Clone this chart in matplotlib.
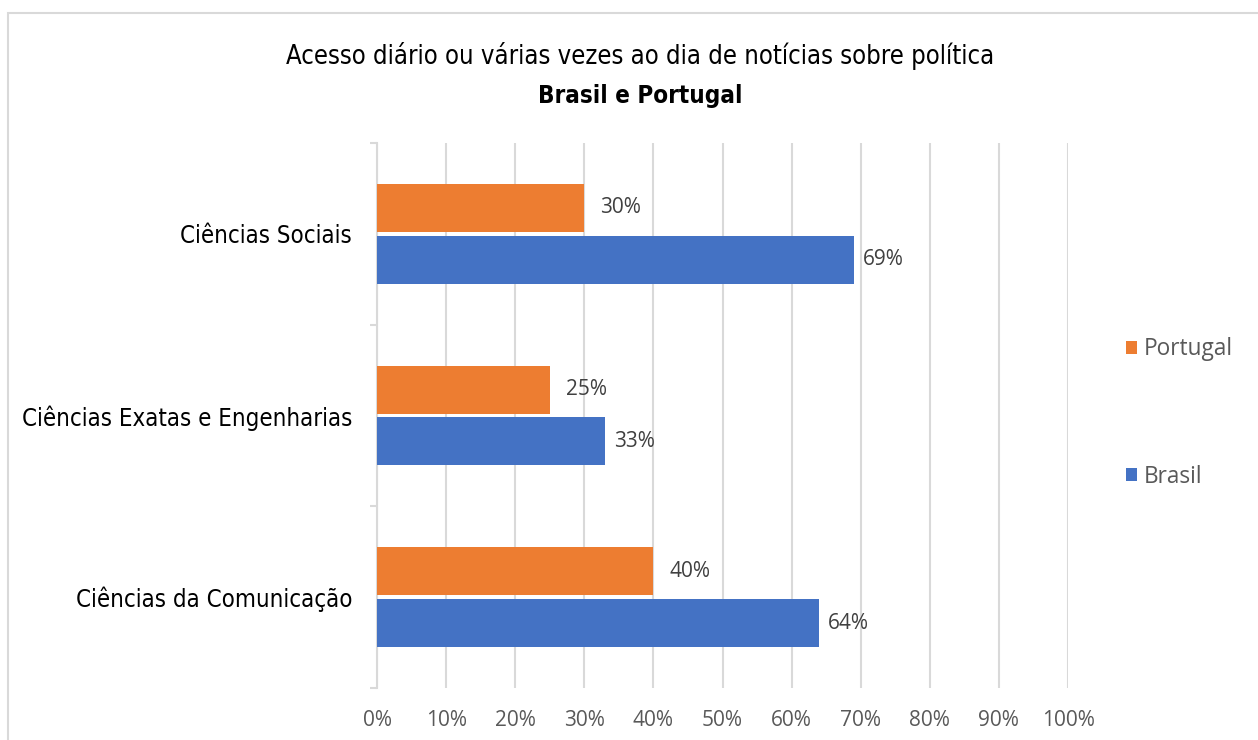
import matplotlib
matplotlib.use("Agg")
import matplotlib.pyplot as plt
from matplotlib.patches import Rectangle
import numpy as np

# data (top to bottom as in the chart)
categories = ["Ciências Sociais", "Ciências Exatas e Engenharias", "Ciências da Comunicação"]
portugal = [30, 25, 40]
brasil = [69, 33, 64]
xticks = list(range(0, 101, 10))

ORANGE = "#ED7D31"
BLUE = "#4472C4"
GRID = "#d9d9d9"
NARROW = ["DejaVu Sans"]
BODY = ["Open Sans", "DejaVu Sans"]

fig = plt.figure(figsize=(12.58, 7.40), dpi=100)
ax = fig.add_axes([377 / 1258, 1 - 688 / 740, (1068 - 377) / 1258, (688 - 143) / 740])

y = np.arange(len(categories))[::-1].astype(float)
h = 0.264
off = 0.143
bp = ax.barh(y + off, portugal, height=h, color=ORANGE, label="Portugal", zorder=3)
bb = ax.barh(y - off, brasil, height=h, color=BLUE, label="Brasil", zorder=3)

for bars, vals, dx in ((bp, portugal, 16), (bb, brasil, 9)):
    for b, v in zip(bars, vals):
        ax.annotate(f"{v}%", (b.get_width(), b.get_y() + b.get_height() / 2),
                    xytext=(dx * 0.72, 0), textcoords="offset points",
                    ha="left", va="center", fontsize=15, color="#404040",
                    family=BODY, zorder=4)

ax.set_xlim(0, 100)
ax.set_ylim(-0.5, len(categories) - 0.5)
ax.set_xticks(xticks)
ax.set_xticklabels([f"{t}%" for t in xticks], family=BODY, fontsize=15, color="#595959")
ax.set_yticks(y)
ax.set_yticklabels(categories, family=NARROW, stretch="condensed", fontsize=17.2, color="black")
ax.set_yticks(np.arange(-0.5, len(categories), 1.0), minor=True)
ax.tick_params(axis="x", length=0, pad=16)
ax.tick_params(axis="y", which="major", length=0, pad=18)
ax.tick_params(axis="y", which="minor", length=5, color=GRID, width=1.5)
ax.grid(axis="x", color=GRID, linewidth=1.5, zorder=0)
for s in ("top", "right", "bottom"):
    ax.spines[s].set_visible(False)
ax.spines["left"].set_color(GRID)
ax.spines["left"].set_linewidth(1.5)

fig.text(640 / 1258, 1 - 56 / 740, "Acesso diário ou várias vezes ao dia de notícias sobre política",
         ha="center", va="center", fontsize=18.4, family=NARROW, stretch="condensed")
fig.text(640 / 1258, 1 - 96 / 740, "Brasil e Portugal",
         ha="center", va="center", fontsize=17.4, family=NARROW, stretch="condensed", fontweight="bold")

fig.legend(handles=[bp, bb], loc="center left", bbox_to_anchor=(1106 / 1258, 1 - 413 / 740),
           frameon=False, prop={"family": BODY, "size": 16.3}, labelcolor="#595959",
           handlelength=0.45, handleheight=0.45, handletextpad=0.3, labelspacing=4.55)

fig.patches.append(Rectangle((8 / 1258, -0.1), 1.2, 1 - 13 / 740 + 0.1, transform=fig.transFigure,
                             fill=False, edgecolor=GRID, linewidth=1.5))

fig.savefig("out.png", dpi=100)
